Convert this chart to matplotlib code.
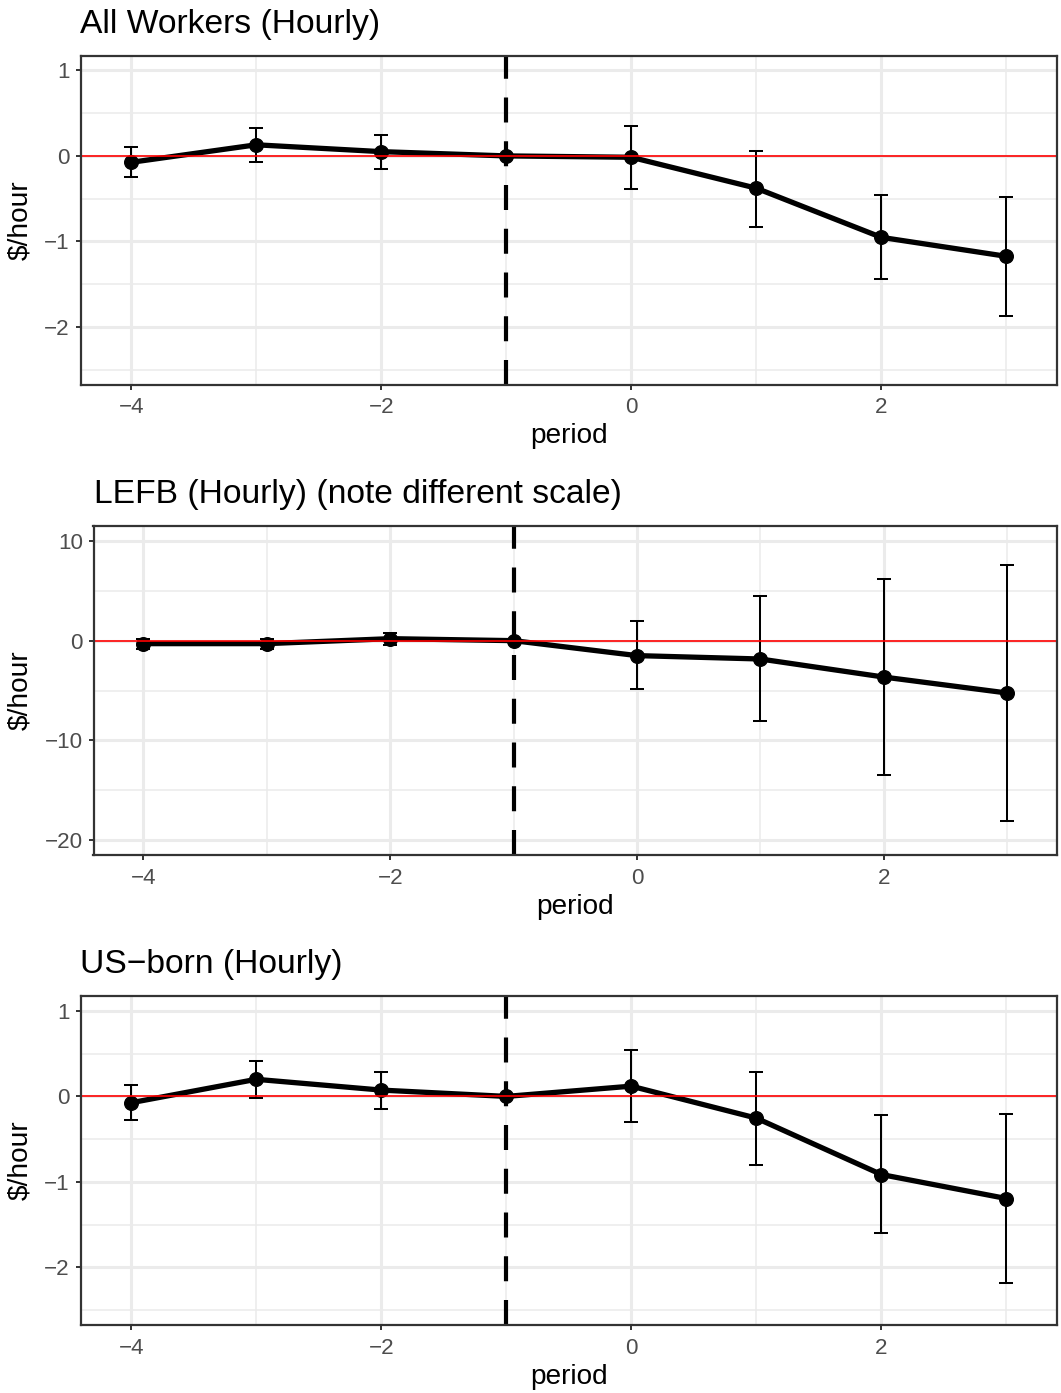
import numpy as np
import matplotlib
matplotlib.use('Agg')
import matplotlib.pyplot as plt

#==============================================================================
#DATA
#==============================================================================

period = [-4, -3, -2, -1, 0, 1, 2, 3]

all_est = [-0.075, 0.13, 0.05, 0.0, -0.016, -0.378, -0.953, -1.175]
all_lo = [-0.25, -0.067, -0.15, 0.0, -0.39, -0.83, -1.44, -1.87]
all_hi = [0.11, 0.33, 0.245, 0.0, 0.35, 0.062, -0.46, -0.475]

lefb_est = [-0.3, -0.3, 0.2, 0.0, -1.5, -1.84, -3.65, -5.25]
lefb_lo = [-0.8, -0.8, -0.4, 0.0, -4.8, -8.1, -13.5, -18.1]
lefb_hi = [0.2, 0.2, 0.8, 0.0, 1.96, 4.46, 6.2, 7.6]

us_est = [-0.074, 0.2, 0.074, 0.0, 0.12, -0.254, -0.914, -1.195]
us_lo = [-0.28, -0.02, -0.15, 0.0, -0.3, -0.8, -1.6, -2.18]
us_hi = [0.13, 0.42, 0.29, 0.0, 0.54, 0.29, -0.22, -0.21]

titles = ['All Workers (Hourly)', 'LEFB (Hourly) (note different scale)',
          'US\u2212born (Hourly)']
y_limits = [(-2.5, 1), (-20, 10), (-2.5, 1)]
y_major = [[-2, -1, 0, 1], [-20, -10, 0, 10], [-2, -1, 0, 1]]
y_minor = [[-2.5, -1.5, -0.5, 0.5], [-15, -5, 5], [-2.5, -1.5, -0.5, 0.5]]
x_major = [-4, -2, 0, 2]
x_minor = [-3, -1, 1, 3]
event_period = -1

#==============================================================================
#SETTINGS
#==============================================================================

W, H = 1061, 1393
plt.rcParams['font.family'] = ['Liberation Sans', 'DejaVu Sans']
plt.rcParams['axes.unicode_minus'] = True

title_font = 24.2
label_font = 20.2
tick_font = 16.1

# panel boxes in pixels: left, top, right, bottom
boxes = [(80.5, 55.5, 1057, 384.5),
         (93.5, 526, 1057, 855),
         (80.5, 996, 1057, 1325)]
title_base = [32.7, 503.3, 973.3]
xlab_base = [443.5, 913.5, 1384]

ests = [all_est, lefb_est, us_est]
los = [all_lo, lefb_lo, us_lo]
his = [all_hi, lefb_hi, us_hi]

#==============================================================================
#PLOTTING
#==============================================================================

f = plt.figure(figsize=(W / 100, H / 100), dpi=100)

for i in range(3):
    l, t, r, b = boxes[i]
    ax = f.add_axes([l / W, 1 - b / H, (r - l) / W, (b - t) / H])

    est = np.array(ests[i])
    lo = np.array(los[i])
    hi = np.array(his[i])

    # expand like ggplot (errorbar width 0.1 included)
    xr = (min(period) - 0.05, max(period) + 0.05)
    dx = (xr[1] - xr[0]) * 0.05
    ax.set_xlim(xr[0] - dx, xr[1] + dx)
    y0, y1 = y_limits[i]
    dy = (y1 - y0) * 0.05
    ax.set_ylim(y0 - dy, y1 + dy)

    # grid
    for v in x_minor:
        ax.axvline(v, color='#EBEBEB', lw=1.1, zorder=0)
    for v in y_minor[i]:
        ax.axhline(v, color='#EBEBEB', lw=1.1, zorder=0)
    for v in x_major:
        ax.axvline(v, color='#EBEBEB', lw=2.2, zorder=0)
    for v in y_major[i]:
        ax.axhline(v, color='#EBEBEB', lw=2.2, zorder=0)

    ax.axvline(event_period, color='black', lw=3.0, linestyle=(0, (6, 4.5)), zorder=2)
    ax.plot(period, est, color='black', lw=3.8, zorder=3)
    ax.plot(period, est, 'o', color='black', markersize=9.8, zorder=4)
    ax.errorbar(period, est, yerr=[est - lo, hi - est], fmt='none', ecolor='black',
                elinewidth=1.45, capsize=4.7, capthick=1.45, zorder=4)
    ax.axhline(0, color='red', lw=1.2, zorder=5)

    ax.set_xticks(x_major)
    ax.set_yticks(y_major[i])
    ax.tick_params(labelsize=tick_font, colors='#333333', labelcolor='#4D4D4D',
                   length=3.6, width=1.4, pad=4)
    ax.tick_params(axis='x', pad=5.5)
    for s in ax.spines.values():
        s.set_color('#333333')
        s.set_linewidth(1.6)
        s.set_zorder(6)

    f.text(l / W, 1 - title_base[i] / H, titles[i], fontsize=title_font,
           ha='left', va='baseline')
    f.text((l + r) / 2 / W, 1 - xlab_base[i] / H, 'period', fontsize=label_font,
           ha='center', va='baseline')
    f.text(20 / W, 1 - (t + b) / 2 / H, '$/hour', fontsize=label_font,
           rotation=90, ha='center', va='center')

#save figure
f.savefig('out.png', dpi=100)
